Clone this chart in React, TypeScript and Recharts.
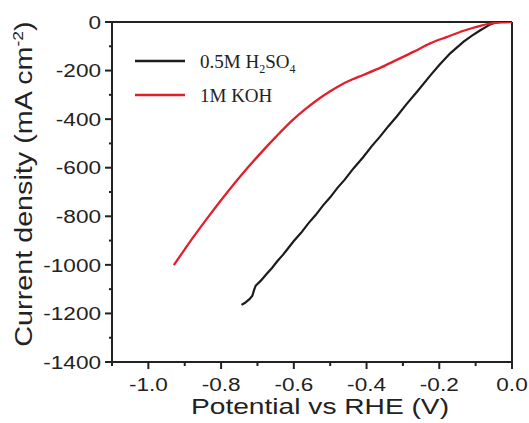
import { LineChart, Line, XAxis, YAxis, ReferenceLine, Legend } from "recharts";

// potential (V vs RHE) and current density (mA cm-2)
const KOH_V = [
  -0.93, -0.9, -0.877, -0.83, -0.785, -0.74, -0.693, -0.65, -0.602, -0.565, -0.528, -0.5, -0.473,
  -0.44, -0.409, -0.36, -0.317, -0.27, -0.225, -0.18, -0.133, -0.095, -0.06, -0.03, 0,
];
const KOH_J = [
  -1001, -936, -887, -792, -705, -623, -543, -474, -402, -355, -313, -285, -261,
  -237, -218, -187, -156, -122, -88, -62, -36, -19, -7, -1.5, 0,
];

const H2SO4_V = [
  -0.744, -0.735, -0.722, -0.714, -0.709, -0.705, -0.69, -0.675, -0.66, -0.645, -0.63, -0.62, -0.6,
  -0.58, -0.56, -0.54, -0.52, -0.5, -0.48, -0.46, -0.436, -0.41, -0.385, -0.363, -0.34, -0.317,
  -0.29, -0.26, -0.225, -0.2, -0.17, -0.133, -0.11, -0.087, -0.07, -0.06, -0.046, -0.03, 0,
];
const H2SO4_J = [
  -1165, -1157, -1141, -1127, -1102, -1086, -1064, -1038, -1013, -984, -959, -940, -902,
  -868, -829, -795, -756, -722, -683, -649, -603, -558, -510, -472, -429, -389,
  -338, -285, -221, -177, -129, -81, -56, -34, -19, -10, -2, 0, 0,
];

const X_TICKS = [-1.1, -1.0, -0.9, -0.8, -0.7, -0.6, -0.5, -0.4, -0.3, -0.2, -0.1, 0];
const Y_TICKS = [
  -1400, -1300, -1200, -1100, -1000, -900, -800, -700, -600, -500, -400, -300, -200, -100, 0,
];

const kohData = KOH_V.map((v, i) => ({ v, j: KOH_J[i] }));
const acidData = H2SO4_V.map((v, i) => ({ v, j: H2SO4_J[i] }));

const INK = "#222";
const RED = "#e2202c";
const SANS = "'Liberation Sans', Arial, sans-serif";
const SERIF = "'Liberation Serif', 'Times New Roman', serif";

function XTick({ x, y, payload }: any) {
  const v = payload.value;
  const major = Math.round(v * 10) % 2 === 0;
  return (
    <g>
      <line x1={x} x2={x} y1={y} y2={y + (major ? 7 : 4)} stroke={INK} strokeWidth={2} />
      {major && (
        <g transform={`translate(${x},${y + 29})`}>
          <text textAnchor="middle" fontSize={18.5} fill={INK} fontFamily={SANS} transform="scale(1.22,1)">
            {v.toFixed(1)}
          </text>
        </g>
      )}
    </g>
  );
}

function YTick({ x, y, payload }: any) {
  const v = payload.value;
  const major = v % 200 === 0;
  return (
    <g>
      <line x1={x} x2={x - (major ? 7 : 3)} y1={y} y2={y} stroke={INK} strokeWidth={2} />
      {major && (
        <g transform={`translate(${x - 11},${y + 6.7})`}>
          <text textAnchor="end" fontSize={18.5} fill={INK} fontFamily={SANS} transform="scale(1.22,1)">
            {v}
          </text>
        </g>
      )}
    </g>
  );
}

function LegendBox() {
  return (
    <svg width={240} height={75}>
      <line x1={5} x2={55} y1={21} y2={21} stroke="#1c1c1c" strokeWidth={2.5} />
      <text x={70} y={28} fontSize={19} fontFamily={SERIF} fill={INK}>
        0.5M H
        <tspan fontSize={12} dy={5}>2</tspan>
        <tspan dy={-5}>SO</tspan>
        <tspan fontSize={12} dy={5}>4</tspan>
      </text>
      <line x1={5} x2={55} y1={55} y2={55} stroke={RED} strokeWidth={2.5} />
      <text x={70} y={62} fontSize={19} fontFamily={SERIF} fill={INK}>
        1M KOH
      </text>
    </svg>
  );
}

export default function App() {
  return (
    <div style={{ position: "absolute", left: 0, top: 0, background: "#fff" }}>
      <LineChart width={529} height={423} margin={{ top: 22, right: 17, left: 0, bottom: 0 }}>
        <XAxis
          type="number"
          dataKey="v"
          domain={[-1.1, 0]}
          ticks={X_TICKS}
          interval={0}
          allowDataOverflow
          height={61}
          tickSize={0}
          tickMargin={0}
          tickLine={false}
          tick={<XTick />}
          axisLine={{ stroke: INK, strokeWidth: 2 }}
          label={{
            content: () => (
              <g transform="translate(320,414)">
                <text textAnchor="middle" fontSize={22} fill={INK} fontFamily={SANS} transform="scale(1.28,1)">
                  Potential vs RHE (V)
                </text>
              </g>
            ),
          }}
        />
        <YAxis
          type="number"
          dataKey="j"
          domain={[-1400, 0]}
          ticks={Y_TICKS}
          interval={0}
          allowDataOverflow
          width={112}
          tickSize={0}
          tickMargin={0}
          tickLine={false}
          tick={<YTick />}
          axisLine={{ stroke: INK, strokeWidth: 2 }}
          label={{
            content: () => (
              <g transform="translate(32,184) rotate(-90)">
                <text textAnchor="middle" fontSize={23} fill={INK} fontFamily={SANS} transform="scale(1.25,1)">
                  Current density (mA cm
                  <tspan fontSize={14} dy={-9}>-2</tspan>
                  <tspan dy={9}>)</tspan>
                </text>
              </g>
            ),
          }}
        />
        <ReferenceLine y={0} stroke={INK} strokeWidth={2} />
        <ReferenceLine x={0} stroke={INK} strokeWidth={2} />
        <Legend
          layout="vertical"
          align="center"
          verticalAlign="middle"
          wrapperStyle={{ left: 130, top: 40, width: 240 }}
          content={() => <LegendBox />}
        />
        <Line
          data={acidData}
          dataKey="j"
          name="0.5M H2SO4"
          type="linear"
          stroke="#1c1c1c"
          strokeWidth={2.2}
          dot={false}
          isAnimationActive={false}
        />
        <Line
          data={kohData}
          dataKey="j"
          name="1M KOH"
          type="monotone"
          stroke={RED}
          strokeWidth={2.3}
          dot={false}
          isAnimationActive={false}
        />
      </LineChart>
    </div>
  );
}
